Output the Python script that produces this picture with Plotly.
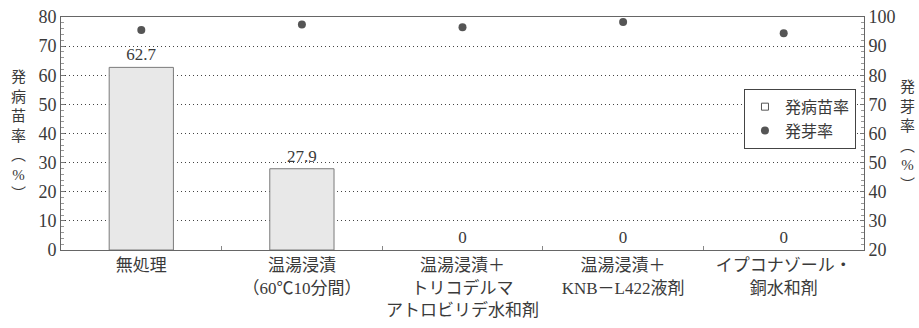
import plotly.graph_objects as go

categories = ["無処理", "温湯浸漬<br>（60℃10分間）", "温湯浸漬＋<br>トリコデルマ<br>アトロビリデ水和剤",
              "温湯浸漬＋<br>KNB－L422液剤", "イプコナゾール・<br>銅水和剤"]
disease_rate = [62.7, 27.9, 0, 0, 0]
germination_rate = [95.5, 97.4, 96.5, 98.3, 94.4]
bar_labels = ["62.7", "27.9", "0", "0", "0"]

FONT = "Liberation Serif, Noto Sans CJK JP"
TXT = "#3a3a3a"

fig = go.Figure()
fig.add_trace(go.Bar(
    x=categories, y=disease_rate, name="発病苗率", showlegend=False,
    marker=dict(color="#e8e8e8",
                line=dict(color="#7a7a7a", width=[1 if v > 0 else 0 for v in disease_rate])),
    width=0.4, text=bar_labels, textposition="outside", cliponaxis=False,
    textfont=dict(size=17, color=TXT, family=FONT),
))
# legend entry for the bars (small open square like the reference)
fig.add_trace(go.Scatter(
    x=[None], y=[None], name="発病苗率", mode="markers",
    marker=dict(symbol="square-open", color="#555555", size=7, line=dict(width=1)),
))
fig.add_trace(go.Scatter(
    x=categories, y=germination_rate, name="発芽率", mode="markers",
    marker=dict(color="#555555", size=8), yaxis="y2",
))

fig.update_layout(
    width=919, height=328,
    margin=dict(l=61, r=55, t=17, b=78),
    plot_bgcolor="white", paper_bgcolor="white",
    font=dict(family=FONT, size=17, color=TXT),
    bargap=0.6,
    xaxis=dict(
        showline=True, linecolor="#666", linewidth=1, mirror=True,
        ticks="inside", tickson="boundaries", ticklen=4, tickcolor="#888",
        tickfont=dict(size=17, color=TXT), tickangle=0, automargin=False,
    ),
    yaxis=dict(
        range=[0, 80], dtick=10, showline=True, linecolor="#666", linewidth=1,
        ticks="inside", ticklen=4, tickcolor="#777",
        minor=dict(dtick=2, ticks="inside", ticklen=3, tickcolor="#999", showgrid=False),
        showgrid=True, gridcolor="#444", griddash="1px,3px", gridwidth=1.2,
        zeroline=False, tickfont=dict(size=18, color=TXT), automargin=False,
    ),
    yaxis2=dict(
        range=[20, 100], dtick=10, overlaying="y", side="right",
        showline=True, linecolor="#666", linewidth=1,
        ticks="inside", ticklen=4, tickcolor="#777",
        minor=dict(dtick=2, ticks="inside", ticklen=3, tickcolor="#999", showgrid=False),
        showgrid=False, zeroline=False, tickfont=dict(size=18, color=TXT), automargin=False,
    ),
    showlegend=True,
    legend=dict(
        x=0.99, y=0.692, xanchor="right", yanchor="top",
        bgcolor="white", bordercolor="#444", borderwidth=1,
        font=dict(size=16, color=TXT), itemwidth=30, tracegroupgap=0,
    ),
)

fig.add_annotation(
    xref="paper", yref="paper", x=-0.053, y=0.49, xanchor="center", yanchor="middle",
    text="発<br>病<br>苗<br>率<br>︵<br>%<br>︶", showarrow=False,
    font=dict(size=15, color=TXT, family=FONT),
)
fig.add_annotation(
    xref="paper", yref="paper", x=1.054, y=0.49, xanchor="center", yanchor="middle",
    text="発<br>芽<br>率<br>︵<br>%<br>︶", showarrow=False,
    font=dict(size=15, color=TXT, family=FONT),
)

fig.write_html("out.html")
